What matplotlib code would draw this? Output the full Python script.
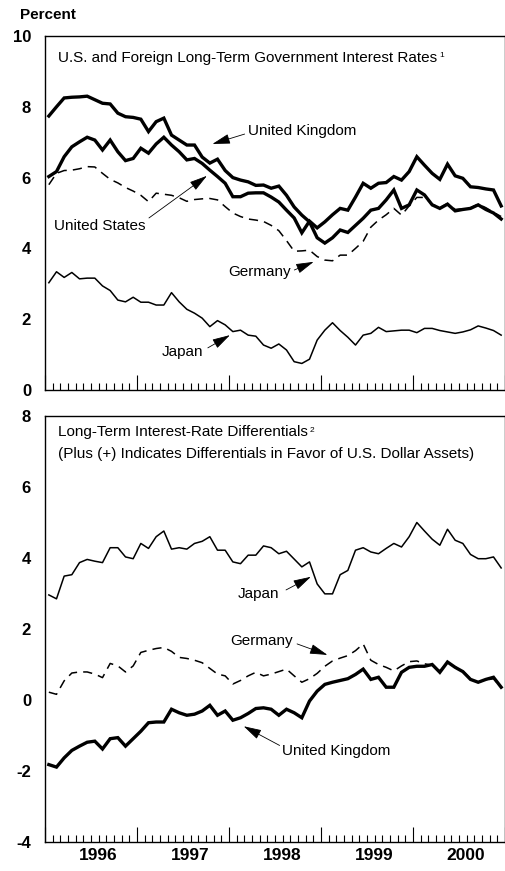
import matplotlib
matplotlib.use("Agg")
import matplotlib.pyplot as plt
import matplotlib.transforms as mtransforms
from matplotlib.ticker import MultipleLocator
import numpy as np

plt.rcParams['font.family'] = ['Liberation Sans', 'DejaVu Sans']
plt.rcParams['axes.unicode_minus'] = False

# monthly data, Jan 1996 - Dec 2000 (percent)
years = [1996, 1997, 1998, 1999, 2000]

us = [6.03, 6.17, 6.59, 6.87, 7.01, 7.14, 7.06, 6.78, 7.06, 6.73, 6.48, 6.54,
      6.83, 6.69, 6.95, 7.14, 6.92, 6.73, 6.50, 6.54, 6.40, 6.21, 6.03, 5.84,
      5.46, 5.46, 5.56, 5.57, 5.57, 5.45, 5.31, 5.08, 4.86, 4.44, 4.77, 4.58,
      4.75, 4.95, 5.13, 5.08, 5.45, 5.84, 5.70, 5.84, 5.86, 6.03, 5.93, 6.17,
      6.59, 6.35, 6.12, 5.95, 6.38, 6.05, 5.98, 5.74, 5.72, 5.68, 5.65, 5.20]

uk = [7.74, 8.00, 8.25, 8.27, 8.28, 8.30, 8.20, 8.10, 8.08, 7.82, 7.72, 7.70,
      7.65, 7.30, 7.58, 7.68, 7.20, 7.06, 6.92, 6.92, 6.58, 6.41, 6.52, 6.20,
      6.00, 5.93, 5.88, 5.78, 5.79, 5.70, 5.76, 5.50, 5.17, 4.94, 4.75, 4.30,
      4.15, 4.30, 4.52, 4.45, 4.65, 4.85, 5.08, 5.13, 5.37, 5.65, 5.13, 5.23,
      5.65, 5.51, 5.23, 5.13, 5.25, 5.06, 5.10, 5.13, 5.23, 5.10, 5.00, 4.83]

germany = [5.80, 6.12, 6.20, 6.21, 6.25, 6.31, 6.30, 6.12, 5.95, 5.85, 5.72, 5.62,
           5.50, 5.32, 5.56, 5.53, 5.50, 5.43, 5.33, 5.38, 5.40, 5.41, 5.37, 5.18,
           5.00, 4.90, 4.83, 4.80, 4.76, 4.65, 4.50, 4.22, 3.92, 3.93, 3.95, 3.77,
           3.67, 3.65, 3.81, 3.81, 4.00, 4.20, 4.60, 4.80, 4.95, 5.13, 4.94, 5.20,
           5.44, 5.44, 5.25, 5.15, 5.27, 5.10, 5.12, 5.15, 5.25, 5.15, 5.02, 4.90]

japan = [3.03, 3.34, 3.18, 3.32, 3.14, 3.16, 3.16, 2.94, 2.81, 2.54, 2.49, 2.62,
         2.48, 2.48, 2.40, 2.40, 2.75, 2.49, 2.28, 2.17, 2.03, 1.79, 1.96, 1.84,
         1.65, 1.69, 1.55, 1.52, 1.27, 1.18, 1.30, 1.13, 0.80, 0.75, 0.87, 1.41,
         1.69, 1.90, 1.68, 1.49, 1.27, 1.55, 1.60, 1.77, 1.65, 1.67, 1.69, 1.69,
         1.62, 1.74, 1.74, 1.68, 1.64, 1.60, 1.64, 1.70, 1.81, 1.75, 1.68, 1.55]

# differentials (U.S. minus foreign)
japan_diff = [2.96, 2.85, 3.49, 3.53, 3.87, 3.96, 3.91, 3.87, 4.29, 4.29, 4.03, 3.98,
              4.41, 4.27, 4.60, 4.76, 4.25, 4.29, 4.25, 4.41, 4.47, 4.60, 4.22, 4.22,
              3.89, 3.84, 4.08, 4.08, 4.34, 4.29, 4.12, 4.19, 3.97, 3.75, 3.89, 3.27,
              2.99, 2.99, 3.53, 3.65, 4.22, 4.29, 4.17, 4.12, 4.27, 4.41, 4.31, 4.60,
              5.00, 4.76, 4.53, 4.36, 4.81, 4.50, 4.41, 4.10, 3.98, 3.98, 4.03, 3.72]

germany_diff = [0.22, 0.16, 0.54, 0.76, 0.79, 0.79, 0.73, 0.63, 1.03, 0.96, 0.79, 0.96,
                1.34, 1.40, 1.45, 1.48, 1.37, 1.20, 1.17, 1.12, 1.05, 0.89, 0.73, 0.68,
                0.45, 0.55, 0.68, 0.78, 0.68, 0.73, 0.80, 0.87, 0.68, 0.50, 0.60, 0.75,
                0.95, 1.10, 1.18, 1.25, 1.39, 1.58, 1.12, 1.00, 0.92, 0.82, 0.96, 1.08,
                1.10, 1.02, 0.98, 0.82, 1.05, 0.93, 0.82, 0.60, 0.50, 0.56, 0.60, 0.35]

uk_diff = [-1.82, -1.89, -1.63, -1.42, -1.30, -1.19, -1.16, -1.38, -1.09, -1.06, -1.30, -1.09,
           -0.88, -0.64, -0.62, -0.62, -0.26, -0.36, -0.43, -0.40, -0.31, -0.15, -0.43, -0.31,
           -0.57, -0.50, -0.38, -0.24, -0.22, -0.26, -0.43, -0.26, -0.36, -0.50, -0.03, 0.25,
           0.44, 0.50, 0.55, 0.60, 0.72, 0.87, 0.58, 0.64, 0.36, 0.36, 0.78, 0.92,
           0.95, 0.95, 1.00, 0.78, 1.07, 0.92, 0.80, 0.58, 0.50, 0.58, 0.64, 0.36]

x = 1996 + (np.arange(len(us)) + 0.5) / 12.0

W, H = 506, 871
fig = plt.figure(figsize=(W / 100, H / 100), dpi=100)
ax1 = fig.add_axes([45 / W, 1 - 390 / H, 460 / W, 354 / H])
ax2 = fig.add_axes([45 / W, 1 - 842 / H, 460 / W, 426 / H])

thick = 2.4
thin = 1.1
dash = (0, (6, 4))

ax1.plot(x, uk, color='black', lw=thick, solid_joinstyle='miter')
ax1.plot(x, us, color='black', lw=thick, solid_joinstyle='miter')
ax1.plot(x, germany, color='black', lw=thin, ls=dash)
ax1.plot(x, japan, color='black', lw=thin)
ax1.set_ylim(0, 10)
ax1.set_yticks(range(0, 11, 2))

ax2.plot(x, japan_diff, color='black', lw=thin)
ax2.plot(x, germany_diff, color='black', lw=thin, ls=dash)
ax2.plot(x, uk_diff, color='black', lw=thick, solid_joinstyle='miter')
ax2.set_ylim(-4, 8)
ax2.set_yticks(range(-4, 9, 2))

for ax in (ax1, ax2):
    ax.set_xlim(1996, 2001)
    ax.set_xticks(range(1996, 2002))
    ax.set_xticklabels([])
    ax.xaxis.set_minor_locator(MultipleLocator(1 / 12))
    ax.tick_params(axis='x', which='major', direction='in', length=11, width=0.8)
    ax.tick_params(axis='x', which='minor', direction='in', length=5, width=0.8)
    ax.tick_params(axis='y', length=0, pad=10, labelsize=12)
    for lab in ax.get_yticklabels():
        lab.set_fontweight('bold')
    for s in ax.spines.values():
        s.set_linewidth(1.0)

# year labels centred under each year
trans = mtransforms.blended_transform_factory(ax2.transData, ax2.transAxes)
for yr in years:
    ax2.text(yr + 0.575, -0.014, str(yr), transform=trans, ha='center', va='top',
             fontsize=12.5, fontweight='bold')

fig.text(20 / W, 1 - 15 / H, 'Percent', fontsize=11, fontweight='bold',
         ha='left', va='center')

fs = 11
t1 = ax1.text(0.028, 0.938, 'U.S. and Foreign Long-Term Government Interest Rates',
              transform=ax1.transAxes, fontsize=fs, ha='left', va='center')
ax1.annotate('1', xy=(1, 1), xycoords=t1, xytext=(1.5, -1), textcoords='offset points',
             fontsize=6, ha='left', va='top')
t2 = ax2.text(0.028, 0.962, 'Long-Term Interest-Rate Differentials',
              transform=ax2.transAxes, fontsize=fs, ha='left', va='center')
ax2.annotate('2', xy=(1, 1), xycoords=t2, xytext=(1.5, -1), textcoords='offset points',
             fontsize=6, ha='left', va='top')
ax2.text(0.028, 0.911, '(Plus (+) Indicates Differentials in Favor of U.S. Dollar Assets)',
         transform=ax2.transAxes, fontsize=fs, ha='left', va='center')

arrow = dict(arrowstyle='-|>,head_length=1.0,head_width=0.28', color='black',
             lw=0.6, shrinkA=0, shrinkB=0, mutation_scale=11)

def label(ax, text, txy, tail, tip):
    ax.text(txy[0], txy[1], text, fontsize=fs, ha='left', va='center')
    ax.annotate('', xy=tip, xytext=tail, arrowprops=arrow)

label(ax1, 'United Kingdom', (1998.21, 7.32), (1998.17, 7.23), (1997.82, 6.95))
label(ax1, 'United States', (1996.10, 4.63), (1997.13, 4.86), (1997.76, 6.05))
label(ax1, 'Germany', (1997.99, 3.33), (1998.71, 3.39), (1998.92, 3.62))
label(ax1, 'Japan', (1997.27, 1.07), (1997.77, 1.19), (1998.01, 1.55))

label(ax2, 'Japan', (1998.10, 2.99), (1998.62, 3.10), (1998.89, 3.47))
label(ax2, 'Germany', (1998.01, 1.66), (1998.74, 1.58), (1999.07, 1.27))
label(ax2, 'United Kingdom', (1998.58, -1.45), (1998.55, -1.28), (1998.16, -0.74))

fig.savefig('out.png', dpi=100)
